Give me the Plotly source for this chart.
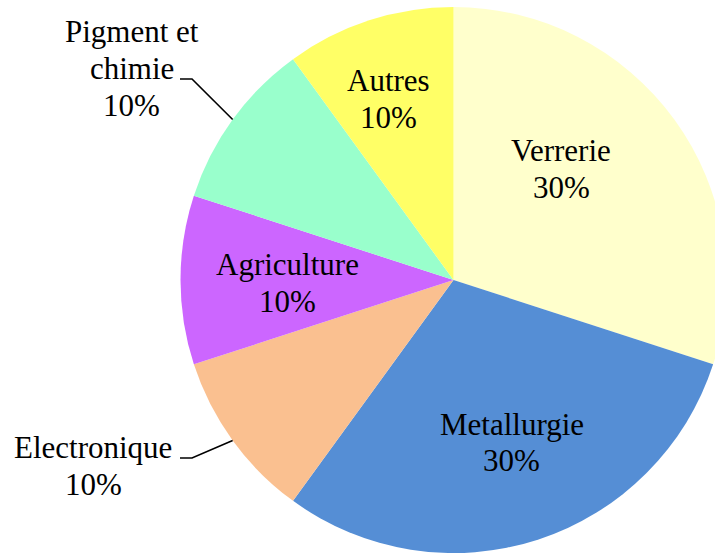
import plotly.graph_objects as go
import math

# ---- data ----
labels = ["Verrerie", "Metallurgie", "Electronique", "Agriculture", "Pigment et chimie", "Autres"]
label_lines = [["Verrerie"], ["Metallurgie"], ["Electronique"], ["Agriculture"], ["Pigment et", "chimie"], ["Autres"]]
values = [30, 30, 10, 10, 10, 10]
colors = ["#FFFFCC", "#558ED5", "#FAC090", "#CC66FF", "#99FFCC", "#FFFF66"]

# ---- geometry (pixels) ----
W, H = 740, 554
cx, cy, R = 453.5, 280.0, 273.0
FONT = "Liberation Serif, Times New Roman, serif"
FS = 31
LINE = 37

def px(x):
    return x / W

def py(y):
    return 1 - y / H

fig = go.Figure(go.Pie(
    labels=labels, values=values, sort=False, direction="clockwise", rotation=0,
    marker=dict(colors=colors, line=dict(width=0)),
    textinfo="none", hoverinfo="label+percent", showlegend=False,
    domain=dict(x=[px(cx - R), px(cx + R)], y=[py(cy + R), py(cy - R)]),
))

total = sum(values)
# label block centres (pixels) and whether label is outside with a leader
label_pos = {
    "Verrerie": (561, 168.5, False),
    "Metallurgie": (511.5, 442.5, False),
    "Electronique": (93, 466, True),
    "Agriculture": (287.5, 282.5, False),
    "Pigment et chimie": (131.5, 68.5, True),
    "Autres": (388, 98.5, False),
}

annotations = []
shapes = []
start = 0.0
for name, lines, v in zip(labels, label_lines, values):
    frac = v / total
    mid = (start + frac / 2) * 2 * math.pi
    start += frac
    txt = lines + [f"{round(100 * frac)}%"]
    bx, by, outside = label_pos[name]
    n = len(txt)
    centers = [by + (i - (n - 1) / 2) * LINE for i in range(n)]
    for t, yy in zip(txt, centers):
        annotations.append(dict(
            x=px(bx), y=py(yy), xref="paper", yref="paper", text=t, showarrow=False,
            xanchor="center", yanchor="middle", font=dict(family=FONT, size=FS, color="black"),
        ))
    if outside:
        ex = cx + R * math.sin(mid)
        ey = cy - R * math.cos(mid)
        # leader: short horizontal tick at the baseline of the last name line, then to slice edge
        ly = centers[n - 2] + 10.5
        shapes.append(dict(
            type="path", xref="paper", yref="paper",
            path=f"M {px(180)},{py(ly)} L {px(192)},{py(ly)} L {px(ex)},{py(ey)}",
            line=dict(color="black", width=1.6),
        ))

fig.update_layout(
    width=W, height=H, autosize=False,
    margin=dict(l=0, r=0, t=0, b=0),
    paper_bgcolor="white", plot_bgcolor="white",
    annotations=annotations, shapes=shapes,
)

fig.write_html(
    "out.html",
    config={"displayModeBar": False},
    post_script="document.body.style.margin='0';document.body.style.overflow='hidden';document.documentElement.style.overflow='hidden';",
)
